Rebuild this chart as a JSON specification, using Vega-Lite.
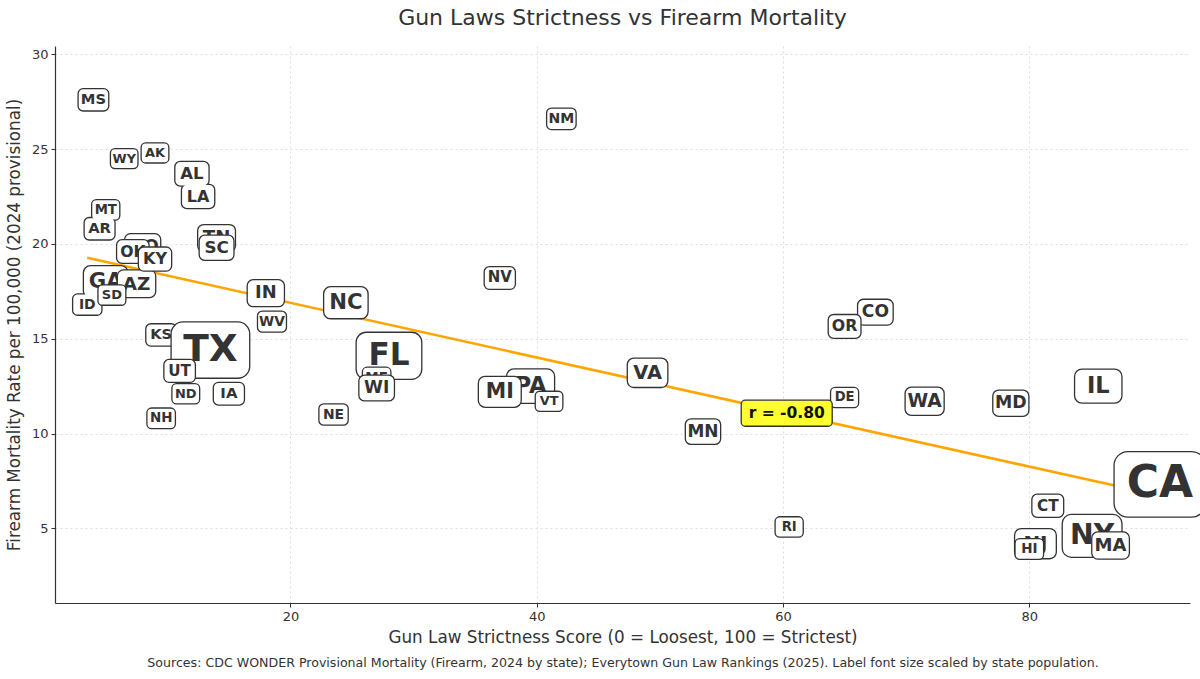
{
  "$schema": "https://vega.github.io/schema/vega-lite/v6.json",
  "description": "Gun law strictness vs firearm mortality, labels sized by population",
  "autosize": "none",
  "width": 1135,
  "height": 557,
  "padding": {"left": 55, "top": 46, "right": 10, "bottom": 76},
  "background": "white",
  "title": {
    "text": "Gun Laws Strictness vs Firearm Mortality",
    "fontSize": 22,
    "fontWeight": "normal",
    "font": "DejaVu Sans",
    "color": "#333333",
    "offset": 16
  },
  "data": {
    "values": [
      {"state": "AL", "score": 12.0, "rate": 23.7, "pop": 5.16},
      {"state": "AK", "score": 9.0, "rate": 24.8, "pop": 0.74},
      {"state": "AZ", "score": 7.5, "rate": 17.9, "pop": 7.58},
      {"state": "AR", "score": 4.5, "rate": 20.8, "pop": 3.09},
      {"state": "CA", "score": 90.6, "rate": 7.32, "pop": 39.43},
      {"state": "CO", "score": 67.5, "rate": 16.4, "pop": 5.96},
      {"state": "CT", "score": 81.5, "rate": 6.19, "pop": 3.68},
      {"state": "DE", "score": 65.0, "rate": 11.9, "pop": 1.05},
      {"state": "FL", "score": 28.0, "rate": 14.1, "pop": 23.37},
      {"state": "GA", "score": 5.0, "rate": 18.0, "pop": 11.18},
      {"state": "HI", "score": 80.0, "rate": 3.91, "pop": 1.45},
      {"state": "ID", "score": 3.5, "rate": 16.8, "pop": 2.0},
      {"state": "IL", "score": 85.6, "rate": 12.5, "pop": 12.71},
      {"state": "IN", "score": 18.0, "rate": 17.4, "pop": 6.92},
      {"state": "IA", "score": 15.0, "rate": 12.1, "pop": 3.24},
      {"state": "KS", "score": 9.5, "rate": 15.2, "pop": 2.97},
      {"state": "KY", "score": 9.0, "rate": 19.2, "pop": 4.59},
      {"state": "LA", "score": 12.5, "rate": 22.5, "pop": 4.6},
      {"state": "ME", "score": 27.0, "rate": 12.95, "pop": 1.41},
      {"state": "MD", "score": 78.5, "rate": 11.6, "pop": 6.26},
      {"state": "MA", "score": 86.6, "rate": 4.09, "pop": 7.14},
      {"state": "MI", "score": 37.0, "rate": 12.2, "pop": 10.14},
      {"state": "MN", "score": 53.5, "rate": 10.1, "pop": 5.79},
      {"state": "MS", "score": 4.0, "rate": 27.6, "pop": 2.94},
      {"state": "MO", "score": 8.0, "rate": 19.85, "pop": 6.25},
      {"state": "MT", "score": 5.0, "rate": 21.8, "pop": 1.14},
      {"state": "NE", "score": 23.5, "rate": 11.0, "pop": 2.01},
      {"state": "NV", "score": 37.0, "rate": 18.2, "pop": 3.27},
      {"state": "NH", "score": 9.5, "rate": 10.8, "pop": 1.41},
      {"state": "NJ", "score": 80.5, "rate": 4.19, "pop": 9.5},
      {"state": "NM", "score": 42.0, "rate": 26.6, "pop": 2.13},
      {"state": "NY", "score": 85.1, "rate": 4.6, "pop": 19.87},
      {"state": "NC", "score": 24.5, "rate": 16.9, "pop": 11.05},
      {"state": "ND", "score": 11.5, "rate": 12.1, "pop": 0.8},
      {"state": "OH", "score": 14.0, "rate": 14.8, "pop": 11.88},
      {"state": "OK", "score": 7.2, "rate": 19.6, "pop": 4.1},
      {"state": "OR", "score": 65.0, "rate": 15.65, "pop": 4.27},
      {"state": "PA", "score": 39.5, "rate": 12.5, "pop": 13.08},
      {"state": "RI", "score": 60.5, "rate": 5.07, "pop": 1.11},
      {"state": "SC", "score": 14.0, "rate": 19.8, "pop": 5.48},
      {"state": "SD", "score": 5.5, "rate": 17.3, "pop": 0.92},
      {"state": "TN", "score": 14.0, "rate": 20.3, "pop": 7.23},
      {"state": "TX", "score": 13.5, "rate": 14.4, "pop": 31.29},
      {"state": "UT", "score": 11.0, "rate": 13.3, "pop": 3.5},
      {"state": "VT", "score": 41.0, "rate": 11.7, "pop": 0.648},
      {"state": "VA", "score": 49.0, "rate": 13.2, "pop": 8.81},
      {"state": "WA", "score": 71.5, "rate": 11.7, "pop": 7.96},
      {"state": "WV", "score": 18.5, "rate": 15.9, "pop": 1.77},
      {"state": "WI", "score": 27.0, "rate": 12.4, "pop": 5.96},
      {"state": "WY", "score": 6.5, "rate": 24.5, "pop": 0.587}
    ]
  },
  "layer": [
    {
      "transform": [{"regression": "rate", "on": "score"}],
      "mark": {"type": "line", "color": "#ffa500", "strokeWidth": 2.6},
      "encoding": {
        "x": {
          "field": "score",
          "type": "quantitative",
          "scale": {"domain": [0.88, 93.05], "nice": false, "zero": false},
          "axis": {
            "title": "Gun Law Strictness Score (0 = Loosest, 100 = Strictest)",
            "values": [20, 40, 60, 80],
            "titlePadding": 6
          }
        },
        "y": {
          "field": "rate",
          "type": "quantitative",
          "scale": {"domain": [1.06, 30.44], "nice": false, "zero": false},
          "axis": {
            "title": "Firearm Mortality Rate per 100,000 (2024 provisional)",
            "values": [5, 10, 15, 20, 25, 30],
            "titlePadding": 8
          }
        }
      }
    },
    {
      "transform": [{"filter": {"not": {"field": "state", "oneOf": ["OK", "SC", "TX", "HI", "MA", "OR", "AZ", "MI", "VT", "ME", "KY", "UT", "SD", "WI"]}}}],
      "mark": {"type": "point", "shape": "M-1,-0.593H1V0.593H-1Z", "filled": true, "fill": "#333333", "stroke": "#333333", "strokeJoin": "round", "opacity": 1},
      "encoding": {
        "x": {
          "field": "score",
          "type": "quantitative",
          "axis": {
            "orient": "bottom",
            "title": "Sources: CDC WONDER Provisional Mortality (Firearm, 2024 by state); Everytown Gun Law Rankings (2025). Label font size scaled by state population.",
            "labels": false,
            "ticks": false,
            "domain": false,
            "grid": false,
            "titleFontSize": 12.6,
            "titlePadding": 53
          }
        },
        "y": {"field": "rate", "type": "quantitative"},
        "size": {"field": "pop", "type": "quantitative", "legend": null, "scale": {"type": "pow", "exponent": 1.45, "zero": false, "domain": [0.58, 39.4], "range": [344, 4070]}},
        "strokeWidth": {"field": "pop", "type": "quantitative", "legend": null, "scale": {"zero": false, "domain": [0.58, 39.4], "range": [10.3, 29.0]}}
      }
    },
    {
      "transform": [{"filter": {"not": {"field": "state", "oneOf": ["OK", "SC", "TX", "HI", "MA", "OR", "AZ", "MI", "VT", "ME", "KY", "UT", "SD", "WI"]}}}],
      "mark": {"type": "point", "shape": "M-1,-0.593H1V0.593H-1Z", "filled": true, "fill": "white", "stroke": "white", "strokeJoin": "round", "opacity": 1},
      "encoding": {
        "x": {"field": "score", "type": "quantitative", "axis": null},
        "y": {"field": "rate", "type": "quantitative"},
        "size": {"field": "pop", "type": "quantitative", "legend": null, "scale": {"type": "pow", "exponent": 1.45, "zero": false, "domain": [0.58, 39.4], "range": [344, 4070]}},
        "strokeWidth": {"field": "pop", "type": "quantitative", "legend": null, "scale": {"zero": false, "domain": [0.58, 39.4], "range": [7.7, 26.4]}}
      }
    },
    {
      "transform": [{"filter": {"not": {"field": "state", "oneOf": ["OK", "SC", "TX", "HI", "MA", "OR", "AZ", "MI", "VT", "ME", "KY", "UT", "SD", "WI"]}}}],
      "mark": {"type": "text", "font": "DejaVu Sans", "fontWeight": "bold", "fill": "#333333", "align": "center", "baseline": "middle"},
      "encoding": {
        "x": {"field": "score", "type": "quantitative", "axis": null},
        "y": {"field": "rate", "type": "quantitative"},
        "text": {"field": "state"},
        "size": {"field": "pop", "type": "quantitative", "legend": null, "scale": {"zero": false, "domain": [0.58, 39.4], "range": [12.8, 44]}}
      }
    },
    {
      "transform": [{"filter": {"field": "state", "oneOf": ["OK", "SC", "TX", "HI", "MA", "OR", "AZ", "MI", "VT", "ME"]}}],
      "mark": {"type": "point", "shape": "M-1,-0.593H1V0.593H-1Z", "filled": true, "fill": "#333333", "stroke": "#333333", "strokeJoin": "round", "opacity": 1},
      "encoding": {
        "x": {"field": "score", "type": "quantitative", "axis": null},
        "y": {"field": "rate", "type": "quantitative"},
        "size": {"field": "pop", "type": "quantitative", "legend": null, "scale": {"type": "pow", "exponent": 1.45, "zero": false, "domain": [0.58, 39.4], "range": [344, 4070]}},
        "strokeWidth": {"field": "pop", "type": "quantitative", "legend": null, "scale": {"zero": false, "domain": [0.58, 39.4], "range": [10.3, 29.0]}}
      }
    },
    {
      "transform": [{"filter": {"field": "state", "oneOf": ["OK", "SC", "TX", "HI", "MA", "OR", "AZ", "MI", "VT", "ME"]}}],
      "mark": {"type": "point", "shape": "M-1,-0.593H1V0.593H-1Z", "filled": true, "fill": "white", "stroke": "white", "strokeJoin": "round", "opacity": 1},
      "encoding": {
        "x": {"field": "score", "type": "quantitative", "axis": null},
        "y": {"field": "rate", "type": "quantitative"},
        "size": {"field": "pop", "type": "quantitative", "legend": null, "scale": {"type": "pow", "exponent": 1.45, "zero": false, "domain": [0.58, 39.4], "range": [344, 4070]}},
        "strokeWidth": {"field": "pop", "type": "quantitative", "legend": null, "scale": {"zero": false, "domain": [0.58, 39.4], "range": [7.7, 26.4]}}
      }
    },
    {
      "transform": [{"filter": {"field": "state", "oneOf": ["OK", "SC", "TX", "HI", "MA", "OR", "AZ", "MI", "VT", "ME"]}}],
      "mark": {"type": "text", "font": "DejaVu Sans", "fontWeight": "bold", "fill": "#333333", "align": "center", "baseline": "middle"},
      "encoding": {
        "x": {"field": "score", "type": "quantitative", "axis": null},
        "y": {"field": "rate", "type": "quantitative"},
        "text": {"field": "state"},
        "size": {"field": "pop", "type": "quantitative", "legend": null, "scale": {"zero": false, "domain": [0.58, 39.4], "range": [12.8, 44]}}
      }
    },
    {
      "transform": [{"filter": {"field": "state", "oneOf": ["KY", "UT", "SD", "WI"]}}],
      "mark": {"type": "point", "shape": "M-1,-0.593H1V0.593H-1Z", "filled": true, "fill": "#333333", "stroke": "#333333", "strokeJoin": "round", "opacity": 1},
      "encoding": {
        "x": {"field": "score", "type": "quantitative", "axis": null},
        "y": {"field": "rate", "type": "quantitative"},
        "size": {"field": "pop", "type": "quantitative", "legend": null, "scale": {"type": "pow", "exponent": 1.45, "zero": false, "domain": [0.58, 39.4], "range": [344, 4070]}},
        "strokeWidth": {"field": "pop", "type": "quantitative", "legend": null, "scale": {"zero": false, "domain": [0.58, 39.4], "range": [10.3, 29.0]}}
      }
    },
    {
      "transform": [{"filter": {"field": "state", "oneOf": ["KY", "UT", "SD", "WI"]}}],
      "mark": {"type": "point", "shape": "M-1,-0.593H1V0.593H-1Z", "filled": true, "fill": "white", "stroke": "white", "strokeJoin": "round", "opacity": 1},
      "encoding": {
        "x": {"field": "score", "type": "quantitative", "axis": null},
        "y": {"field": "rate", "type": "quantitative"},
        "size": {"field": "pop", "type": "quantitative", "legend": null, "scale": {"type": "pow", "exponent": 1.45, "zero": false, "domain": [0.58, 39.4], "range": [344, 4070]}},
        "strokeWidth": {"field": "pop", "type": "quantitative", "legend": null, "scale": {"zero": false, "domain": [0.58, 39.4], "range": [7.7, 26.4]}}
      }
    },
    {
      "transform": [{"filter": {"field": "state", "oneOf": ["KY", "UT", "SD", "WI"]}}],
      "mark": {"type": "text", "font": "DejaVu Sans", "fontWeight": "bold", "fill": "#333333", "align": "center", "baseline": "middle"},
      "encoding": {
        "x": {"field": "score", "type": "quantitative", "axis": null},
        "y": {"field": "rate", "type": "quantitative"},
        "text": {"field": "state"},
        "size": {"field": "pop", "type": "quantitative", "legend": null, "scale": {"zero": false, "domain": [0.58, 39.4], "range": [12.8, 44]}}
      }
    },
    {
      "data": {"values": [{"label": "r = -0.80"}]},
      "mark": {
        "type": "point",
        "shape": "M-0.912,-0.286H0.912A0.088,0.088 0 0 1 1,-0.198V0.198A0.088,0.088 0 0 1 0.912,0.286H-0.912A0.088,0.088 0 0 1 -1,0.198V-0.198A0.088,0.088 0 0 1 -0.912,-0.286Z",
        "filled": true,
        "fill": "#ffff30",
        "stroke": "#333333",
        "strokeWidth": 1.3,
        "opacity": 1,
        "size": 8281
      },
      "encoding": {
        "x": {"datum": 60.3, "type": "quantitative", "axis": null},
        "y": {"datum": 11.07, "type": "quantitative"}
      }
    },
    {
      "data": {"values": [{"label": "r = -0.80"}]},
      "mark": {"type": "text", "font": "DejaVu Sans", "fontWeight": "bold", "fontSize": 15.5, "fill": "#111111", "align": "center", "baseline": "middle"},
      "encoding": {
        "x": {"datum": 60.3, "type": "quantitative", "axis": null},
        "y": {"datum": 11.07, "type": "quantitative"},
        "text": {"field": "label"}
      }
    }
  ],
  "resolve": {
    "scale": {"size": "independent", "strokeWidth": "independent"},
    "axis": {"x": "independent"}
  },
  "config": {
    "font": "DejaVu Sans",
    "view": {"stroke": null},
    "axis": {
      "labelFont": "DejaVu Sans",
      "labelFontSize": 13,
      "labelColor": "#333333",
      "labelPadding": 3,
      "titleFont": "DejaVu Sans",
      "titleFontSize": 16.8,
      "titleFontWeight": "normal",
      "titleColor": "#333333",
      "domainColor": "#333333",
      "domainWidth": 1.2,
      "tickColor": "#333333",
      "tickSize": 4,
      "gridColor": "#d4d4d4",
      "gridDash": [2, 3],
      "gridWidth": 0.8
    }
  }
}
